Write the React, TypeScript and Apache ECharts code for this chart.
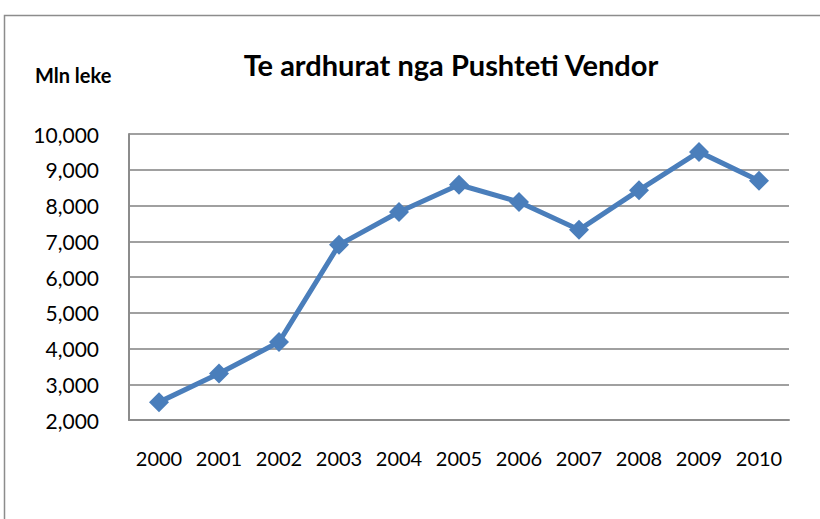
import React, { useEffect, useRef } from "react";
import * as echarts from "echarts";

const years = ["2000", "2001", "2002", "2003", "2004", "2005", "2006", "2007", "2008", "2009", "2010"];
const revenue = [2500, 3300, 4180, 6900, 7820, 8580, 8100, 7320, 8430, 9500, 8690];
const titleText = "Te ardhurat nga Pushteti Vendor";
const unitText = "Mln leke";

export default function App() {
  const ref = useRef<HTMLDivElement>(null);
  useEffect(() => {
    if (!ref.current) return;
    const chart = echarts.init(ref.current, null, { renderer: "svg" });
    const font = "Lato, 'Open Sans', sans-serif";
    chart.setOption({
      animation: false,
      backgroundColor: "#fff",
      graphic: [
        {
          type: "rect",
          shape: { x: 4.5, y: 15.5, width: 830, height: 520 },
          style: { fill: "none", stroke: "#8c8c8c", lineWidth: 1.5 },
          silent: true,
        },
        {
          type: "text",
          left: 35,
          top: 65,
          style: { text: unitText, font: `bold 20px ${font}`, fill: "#000" },
        },
      ],
      title: {
        text: titleText,
        left: 446,
        top: 45,
        textAlign: "center",
        textStyle: { fontFamily: font, fontWeight: "bold", fontSize: 29, color: "#000" },
      },
      grid: { left: 129, right: 31, top: 134, bottom: 99, containLabel: false },
      xAxis: {
        type: "category",
        data: years,
        boundaryGap: true,
        axisLine: { show: true, lineStyle: { color: "#8c8c8c", width: 2 } },
        axisTick: { show: false },
        axisLabel: { fontFamily: font, fontSize: 20, color: "#000", margin: 28, interval: 0 },
      },
      yAxis: {
        type: "value",
        min: 2000,
        max: 10000,
        interval: 1000,
        axisLine: { show: true, lineStyle: { color: "#8c8c8c", width: 2 } },
        axisTick: { show: false },
        axisLabel: {
          fontFamily: font,
          fontSize: 21,
          color: "#000",
          margin: 30,
          formatter: (v: number) => v.toLocaleString("en-US"),
        },
        splitLine: { lineStyle: { color: "#a0a0a0", width: 2 } },
      },
      series: [
        {
          type: "line",
          data: revenue,
          symbol: "diamond",
          symbolSize: 20,
          lineStyle: { color: "#4a7ebb", width: 5 },
          itemStyle: { color: "#4a7ebb" },
        },
      ],
    });
    return () => chart.dispose();
  }, []);
  return <div ref={ref} style={{ position: "absolute", left: 0, top: 0, width: 820, height: 519 }} />;
}
